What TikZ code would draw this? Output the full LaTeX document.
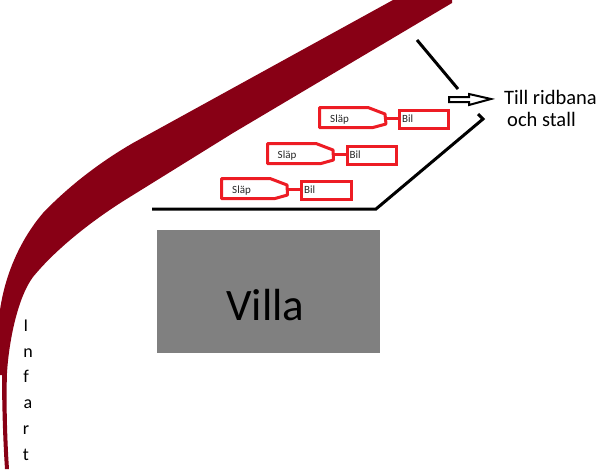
\documentclass[tikz,border=0pt]{standalone}
\usepackage{fontspec}
\setmainfont{Carlito}
\definecolor{road}{HTML}{880015}
\definecolor{mark}{HTML}{ED1C24}
\tikzset{
  x=1pt,y=-1pt,
  box/.style={draw=mark,line width=3pt,fill=white,inner sep=0pt,anchor=north west},
  label/.style={inner sep=0pt,anchor=base west,font=\fontsize{11}{12}\selectfont,text=black!85},
  kerb/.style={draw=black,line width=3pt},
  link/.style={draw=mark,line width=3pt},
  tall/.style={inner sep=0pt,anchor=base west,font=\fontsize{20.5}{24}\selectfont},
  letter/.style={inner sep=0pt,anchor=base,font=\fontsize{18}{20}\selectfont},
}
\begin{document}
\begin{tikzpicture}
\useasboundingbox (0,0) rectangle (600,469);
% road
\fill[road] (393,0) -- (452,0) -- (452,3)
  -- (233,133) -- (125,200)
  .. controls (90,222) and (55,250) .. (33,277)
  .. controls (18,297) and (9,340) .. (7,373)
  .. controls (6,400) and (7,440) .. (9,469)
  -- (5,469) .. controls (3,440) and (2,400) .. (2,375)
  -- (0,375) -- (0,310)
  .. controls (5,275) and (20,240) .. (43,213)
  .. controls (65,190) and (95,165) .. (133,143)
  -- cycle;
% villa
\node[fill=black!50,minimum width=223pt,minimum height=123pt,inner sep=0pt,anchor=north west] (villa) at (157,230) {};
\node[inner sep=0pt,anchor=base,font=\fontsize{45}{50}\selectfont] (villatext) at (265.5,320) {Villa};
% kerbs
\coordinate (k1) at (417,40);
\coordinate (k2) at (458,89);
\draw[kerb] (k1) -- (k2);
\coordinate (k3) at (152,209);
\coordinate (k4) at (376,209);
\coordinate (k5) at (483,119);
\coordinate (k6) at (478,114);
\draw[kerb] (k3) -- (k4) -- (k5) -- (k6);
% arrow
\draw[black,line width=2pt,fill=white,line join=miter]
  (449,97) -- (469,97) -- (469,94) -- (491,99) -- (469,105) -- (469,102) -- (449,102) -- cycle;
\node[tall] (till) at (504,104) {Till ridbana};
\node[tall] (och) at (507,126) {och stall};
% vehicles
\node[box,minimum width=49pt,minimum height=18pt] (bil1) at (397.5,108.5) {};
\node[box,minimum width=49pt,minimum height=18pt] (bil2) at (345.5,144.5) {};
\node[box,minimum width=50pt,minimum height=18pt] (bil3) at (299.5,179.5) {};
\draw[link,line join=round] (319.5,107.5) -- (368,107.5) -- (385,114) -- (386,124) -- (373,127.5) -- (319.5,127.5) -- cycle;
\draw[link,line join=round] (267.5,143.5) -- (316,143.5) -- (333,150) -- (333.5,160) -- (321,163.5) -- (267.5,163.5) -- cycle;
\draw[link,line join=round] (221.5,178.5) -- (270,178.5) -- (287,185) -- (287.5,195) -- (275,198.5) -- (221.5,198.5) -- cycle;
\coordinate (s1) at (385,118);
\coordinate (s2) at (333,154);
\coordinate (s3) at (287,189);
\draw[link] (s1) -- (bil1.west |- s1);
\draw[link] (s2) -- (bil2.west |- s2);
\draw[link] (s3) -- (bil3.west |- s3);
\node[label] (l1) at (330,122) {Släp};
\node[label] (l2) at (277.5,158) {Släp};
\node[label] (l3) at (232,193) {Släp};
\node[label] (b1) at (402,122) {Bil};
\node[label] (b2) at (349.5,158) {Bil};
\node[label] (b3) at (304,193) {Bil};
% Infart
\node[letter] (i1) at (26,331) {I};
\node[letter] (i2) at (28,357) {n};
\node[letter] (i3) at (26,382) {f};
\node[letter] (i4) at (28,408) {a};
\node[letter] (i5) at (26,434) {r};
\node[letter] (i6) at (26,460) {t};
\end{tikzpicture}
\end{document}
